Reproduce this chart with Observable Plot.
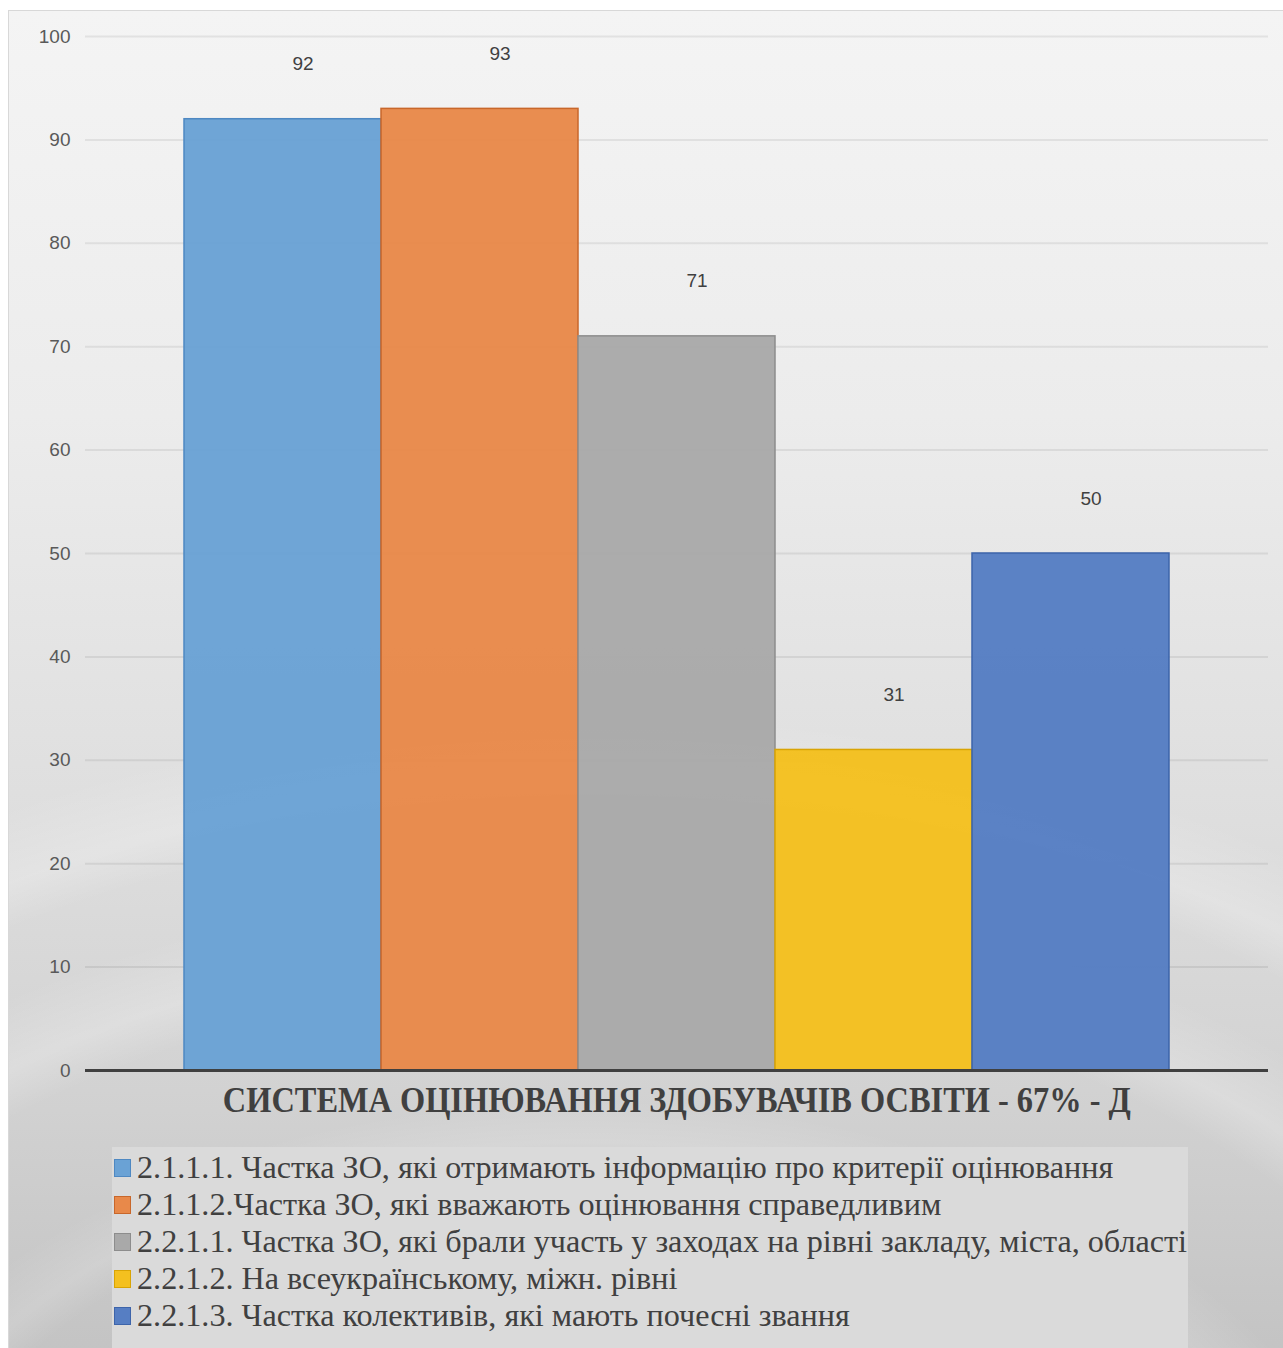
<!DOCTYPE html>
<html><head><meta charset="utf-8">
<script src="https://cdn.jsdelivr.net/npm/d3@7"></script>
<script src="https://cdn.jsdelivr.net/npm/@observablehq/plot@0.6"></script>
<style>
html,body{margin:0;padding:0;background:#fff;}
#wrap{position:relative;width:1283px;height:1348px;overflow:hidden;}
#frame{position:absolute;left:8px;top:10px;width:1290px;height:1350px;border:1px solid #d8d8d8;
 background:
  radial-gradient(ellipse 1500px 1000px at 45% 118%, rgba(255,255,255,0) 62%, rgba(255,255,255,0.22) 66%, rgba(255,255,255,0) 72%),
  radial-gradient(ellipse 1900px 1350px at 45% 122%, rgba(255,255,255,0) 62%, rgba(255,255,255,0.22) 65%, rgba(255,255,255,0) 70%),
  radial-gradient(ellipse 1100px 700px at 45% 118%, rgba(255,255,255,0) 62%, rgba(255,255,255,0.15) 66%, rgba(255,255,255,0) 72%),
  linear-gradient(to bottom, #f4f4f4 0%, #ececec 30%, #dedede 60%, #d2d2d2 80%, #c3c3c3 100%);}
#chart{position:absolute;left:0;top:0;}
#title{position:absolute;top:1081px;left:35px;width:1283px;text-align:center;font-family:"Liberation Serif",serif;font-weight:bold;font-size:35px;color:#404040;white-space:nowrap;}
#title span{display:inline-block;transform-origin:center;}
#legend{position:absolute;left:112px;top:1147px;width:1076px;height:210px;background:#dadada;}
.li{position:absolute;left:0;height:37px;white-space:nowrap;font-family:"Liberation Serif",serif;font-size:31px;color:#404040;}
.sw{position:absolute;left:2px;top:10px;width:17px;height:18px;box-sizing:border-box;border:1.5px solid;}
.tx{position:absolute;left:25px;top:0;line-height:37px;transform-origin:left center;display:inline-block;}
</style></head>
<body><div id="wrap"><div id="frame"></div><div id="chart"></div><div id="title"><span>СИСТЕМА ОЦІНЮВАННЯ ЗДОБУВАЧІВ ОСВІТИ - 67% - Д</span></div><div id="legend"></div></div>
<script>
const categories = [
  "2.1.1.1. Частка ЗО, які отримають інформацію про критерії оцінювання",
  "2.1.1.2.Частка ЗО, які вважають оцінювання справедливим",
  "2.2.1.1. Частка ЗО, які брали участь у заходах на рівні закладу, міста, області",
  "2.2.1.2. На всеукраїнському, міжн. рівні",
  "2.2.1.3. Частка колективів, які мають почесні звання"
];
const values = [92, 93, 71, 31, 50];
const fills = ["#6aa2d5", "#e8894a", "#a9a9a9", "#f4c01f", "#567ec3"];
const strokes = ["#4e88c2", "#c8672b", "#8d8d8d", "#d9a404", "#3d64aa"];
const yTicks = [0, 10, 20, 30, 40, 50, 60, 70, 80, 90, 100];

const data = categories.map((c, i) => ({cat: c, value: values[i], fill: fills[i], stroke: strokes[i]}));

const chart = Plot.plot({
  width: 1283, height: 1090,
  marginTop: 36, marginBottom: 20, marginLeft: 85, marginRight: 15,
  style: {background: "transparent", fontFamily: "'Liberation Sans', sans-serif", fontSize: "19px", color: "#595959", overflow: "visible"},
  x: {domain: categories, paddingInner: 0, paddingOuter: 0.5, axis: null},
  y: {domain: [0, 100], axis: null, label: null},
  color: {type: "identity"},
  marks: [
    Plot.gridY(yTicks, {stroke: "#000", strokeOpacity: 0.07, strokeWidth: 2}),
    Plot.axisY(yTicks, {tickSize: 0, tickPadding: 15, fontSize: 19, fill: "#595959", label: null}),
    Plot.barY(data, {x: "cat", y: "value", fill: "fill", stroke: "stroke", strokeWidth: 1.5, fillOpacity: 0.97}),
    Plot.ruleY([0], {stroke: "#404040", strokeWidth: 3}),
    Plot.text(data, {x: "cat", y: "value", text: d => String(d.value), dy: -55, dx: 20, fontSize: 19, fill: "#404040"})
  ]
});
document.getElementById("chart").appendChild(chart);

// Legend
const legend = document.getElementById("legend");
categories.forEach((c, i) => {
  const row = document.createElement("div");
  row.className = "li";
  row.style.top = (2 + i * 37) + "px";
  const sw = document.createElement("div");
  sw.className = "sw";
  sw.style.background = fills[i];
  sw.style.borderColor = strokes[i];
  const tx = document.createElement("span");
  tx.className = "tx";
  tx.textContent = c;
  row.appendChild(sw); row.appendChild(tx);
  legend.appendChild(row);
});
// condense legend text so the longest line fits like the reference
const txs = [...document.querySelectorAll(".tx")];
const maxW = Math.max(...txs.map(t => t.getBoundingClientRect().width));
const s = 1050 / maxW;
txs.forEach(t => t.style.transform = `scaleX(${s})`);
// condense title
const ts = document.querySelector("#title span");
const tw = ts.getBoundingClientRect().width;
ts.style.transform = `scaleX(${908 / tw})`;
</script></body></html>
